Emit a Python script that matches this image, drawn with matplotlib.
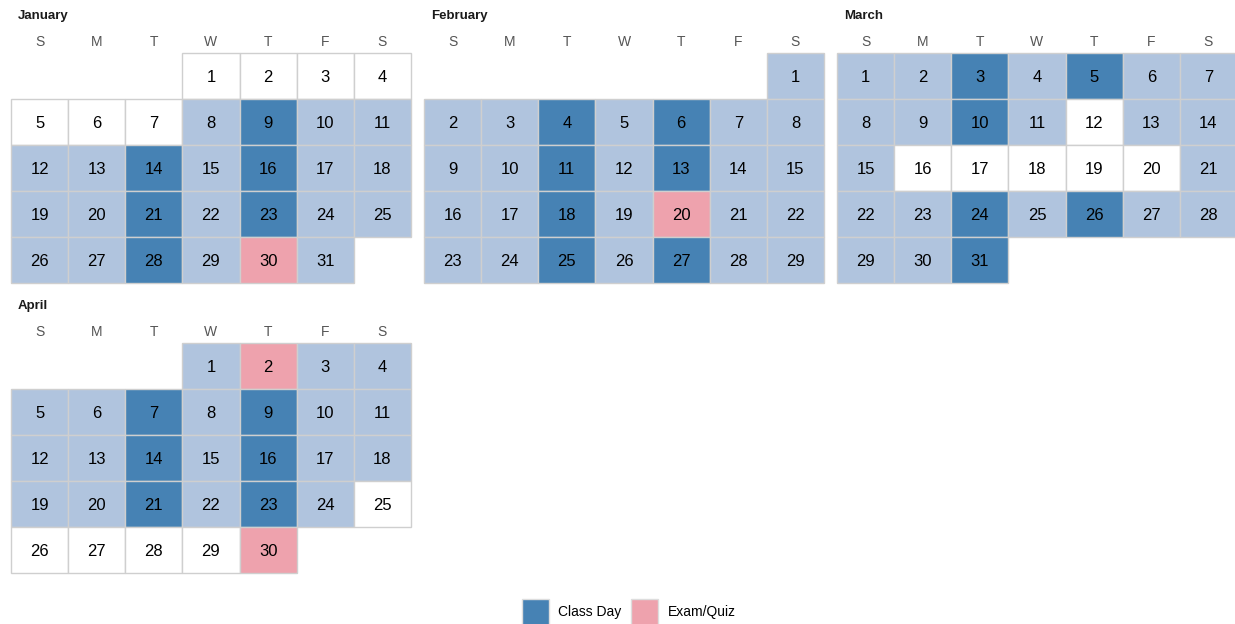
import datetime as dt
import calendar
import matplotlib.pyplot as plt
from matplotlib.patches import Rectangle, Patch

plt.rcParams['font.family'] = ['Liberation Sans', 'DejaVu Sans']

# 2020 spring semester calendar
year = 2020
months = [1, 2, 3, 4]
month_names = ['January', 'February', 'March', 'April']
weekday_labels = ['S', 'M', 'T', 'W', 'T', 'F', 'S']

semester_start = '2020-01-08'
semester_end = '2020-04-24'
break_days = ['2020-03-12', '2020-03-16', '2020-03-17', '2020-03-18',
              '2020-03-19', '2020-03-20']
class_days = ['2020-01-09', '2020-01-14', '2020-01-16', '2020-01-21', '2020-01-23',
              '2020-01-28', '2020-02-04', '2020-02-06', '2020-02-11', '2020-02-13',
              '2020-02-18', '2020-02-25', '2020-02-27', '2020-03-03', '2020-03-05',
              '2020-03-10', '2020-03-24', '2020-03-26', '2020-03-31', '2020-04-07',
              '2020-04-09', '2020-04-14', '2020-04-16', '2020-04-21', '2020-04-23']
exam_days = ['2020-01-30', '2020-02-20', '2020-04-02', '2020-04-30']

c_class = '#4682B4'
c_exam = '#EEA2AD'
c_sem = '#B0C4DE'
c_edge = '#cfcfcf'

to_date = dt.date.fromisoformat
sem0, sem1 = to_date(semester_start), to_date(semester_end)
breaks = set(map(to_date, break_days))
classes = set(map(to_date, class_days))
exams = set(map(to_date, exam_days))


def day_color(d):
    if d in exams:
        return c_exam
    if d in classes:
        return c_class
    if sem0 <= d <= sem1 and d not in breaks:
        return c_sem
    return 'white'


W, H = 1235, 624
fig = plt.figure(figsize=(W / 100, H / 100), dpi=100)

# panel boxes in pixels: left, top
panel_pos = [(11, 53), (424, 53), (837, 53), (11, 343)]
pw, ph = 400, 230

for m, name, (px, py) in zip(months, month_names, panel_pos):
    ax = fig.add_axes([px / W, 1 - (py + ph) / H, pw / W, ph / H])
    ax.set_xlim(0, 7)
    ax.set_ylim(5, 0)
    ax.axis('off')
    first_col = (calendar.weekday(year, m, 1) + 1) % 7
    ndays = calendar.monthrange(year, m)[1]
    for day in range(1, ndays + 1):
        idx = first_col + day - 1
        col, row = idx % 7, idx // 7
        d = dt.date(year, m, day)
        ax.add_patch(Rectangle((col, row), 1, 1, facecolor=day_color(d),
                               edgecolor=c_edge, linewidth=1.0, clip_on=False))
        ax.text(col + 0.5, row + 0.54, str(day), ha='center', va='center',
                fontsize=12, color='black')
    for i, lab in enumerate(weekday_labels):
        ax.text(i + 0.5, -0.24, lab, ha='center', va='center', fontsize=10,
                color='#555555', clip_on=False)
    ax.text(0.12, -0.81, name, ha='left', va='center', fontsize=9.5,
            fontweight='bold', color='#1a1a1a', clip_on=False)

handles = [Patch(facecolor=c_class, edgecolor='#dddddd', label='Class Day'),
           Patch(facecolor=c_exam, edgecolor='#dddddd', label='Exam/Quiz')]
fig.legend(handles=handles, loc='center',
           bbox_to_anchor=(628.5 / W, 1 - 612 / H),
           ncol=2, frameon=False, fontsize=10, handlelength=2.0,
           handleheight=2.4, handletextpad=0.65, columnspacing=0.65)

fig.savefig('out.png', dpi=100, facecolor='white')
